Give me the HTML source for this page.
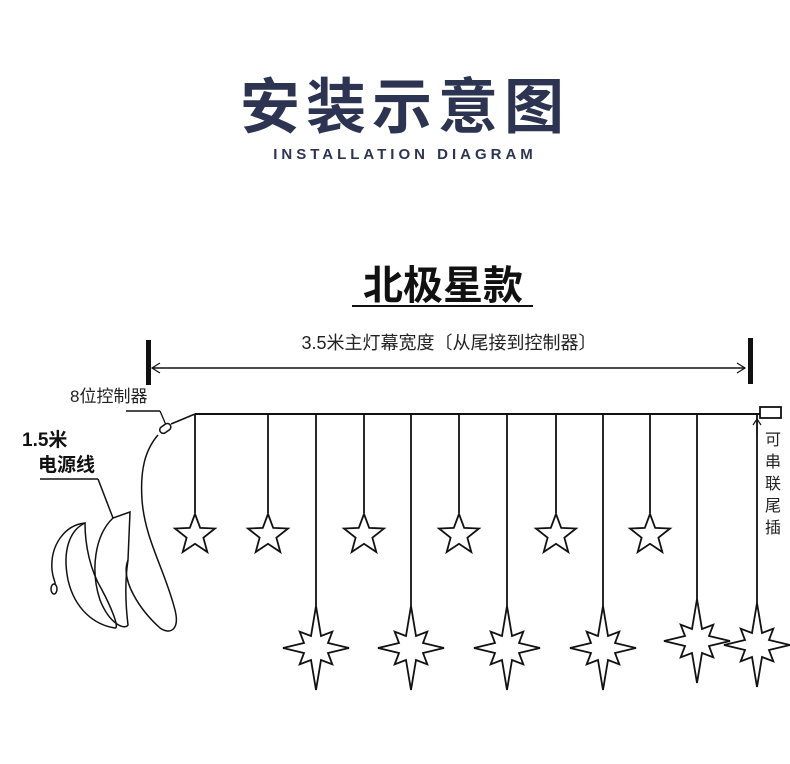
<!DOCTYPE html>
<html><head><meta charset="utf-8"><style>
body{margin:0;background:#fff;width:790px;height:764px;overflow:hidden}
svg{display:block}
text{font-family:"Liberation Sans","Noto Sans CJK SC",sans-serif}
</style></head><body>
<svg id="s" width="790" height="764" viewBox="0 0 790 764" xmlns="http://www.w3.org/2000/svg">
<text x="405" y="128" text-anchor="middle" font-size="60" font-weight="bold" fill="#2d3452" letter-spacing="6">安装示意图</text>
<text x="405" y="159" text-anchor="middle" font-size="15" font-weight="bold" fill="#2d3452" letter-spacing="4">INSTALLATION DIAGRAM</text>
<text x="443" y="299" text-anchor="middle" font-size="40" font-weight="bold" fill="#111">北极星款</text>
<line x1="352" y1="306" x2="533" y2="306" stroke="#111" stroke-width="2"/>
<text x="449" y="349" text-anchor="middle" font-size="18" fill="#222">3.5米主灯幕宽度〔从尾接到控制器〕</text>
<rect x="146" y="340" width="5" height="45" fill="#111"/>
<rect x="748" y="338" width="5" height="46" fill="#111"/>
<line x1="152" y1="368" x2="745" y2="368" stroke="#111" stroke-width="1.5"/>
<path d="M160 363 L152 368 L160 373 M737 363 L745 368 L737 373" fill="none" stroke="#111" stroke-width="1.2"/>
<text x="70" y="402" font-size="17" fill="#222">8位控制器</text>
<line x1="126" y1="411" x2="160" y2="411" stroke="#111" stroke-width="1.5"/>
<text x="22" y="446" font-size="19" font-weight="bold" fill="#111">1.5米</text>
<text x="38" y="471" font-size="19" font-weight="bold" fill="#111">电源线</text>
<line x1="40" y1="479" x2="98" y2="479" stroke="#111" stroke-width="1.5"/>
<line x1="98" y1="479" x2="113" y2="518" stroke="#111" stroke-width="1.5"/>
<line x1="160" y1="411" x2="166" y2="425" stroke="#111" stroke-width="1.3"/>
<rect x="159" y="425" width="12" height="7" rx="3.5" transform="rotate(-35 165 428)" fill="#fff" stroke="#111" stroke-width="1.5"/>
<line x1="171" y1="424" x2="195" y2="414" stroke="#111" stroke-width="1.5"/>
<g fill="none" stroke="#111" stroke-width="1.5">
<path d="M158 435 C145 450 140 470 142 500 C145 540 165 570 175 610 C180 630 170 635 160 628 C140 610 120 580 128 560"/>
<path d="M113 518 C95 535 90 570 100 600 C110 625 125 630 128 625 C125 600 125 580 128 560 L130 512 Z"/>
<path d="M85 523 C70 530 62 550 68 580 C75 610 95 625 115 628 C120 628 110 605 102 590 C90 570 85 545 85 523 Z"/>
<path d="M85 523 C65 525 50 545 52 570 C53 580 56 582 55 585"/>
<ellipse cx="54" cy="589" rx="3" ry="5"/>
</g>
<line x1="195" y1="414" x2="760" y2="414" stroke="#111" stroke-width="2"/>
<rect x="760" y="407" width="21" height="11" fill="#fff" stroke="#111" stroke-width="1.8"/>
<line x1="757" y1="420" x2="757" y2="436" stroke="#111" stroke-width="1.2"/>
<path d="M753 425 L757 419 L761 425" fill="none" stroke="#111" stroke-width="1.2"/>
<text font-size="16" fill="#222"><tspan x="765" y="445">可</tspan><tspan x="765" y="467">串</tspan><tspan x="765" y="489">联</tspan><tspan x="765" y="511">尾</tspan><tspan x="765" y="533">插</tspan></text>
<g id="g" fill="#fff" stroke="#111" stroke-width="1.8" stroke-linejoin="miter"></g>
</svg>
<script>
var g=document.getElementById('g'),h='';
function star5(cx,cy,R){var r=R*0.42,p=[];for(var i=0;i<10;i++){var a=-Math.PI/2+i*Math.PI/5,rr=i%2?r:R;p.push((cx+rr*Math.cos(a)).toFixed(1)+','+(cy+rr*Math.sin(a)).toFixed(1));}return '<polygon points="'+p.join(' ')+'"/>';}
function star8(cx,cy){var p=[];for(var i=0;i<16;i++){var a=-Math.PI/2+i*Math.PI/8,rr;if(i%2)rr=13;else if(i%4==0)rr=(i==0||i==8)?42:33;else rr=23;p.push((cx+rr*Math.cos(a)).toFixed(1)+','+(cy+rr*Math.sin(a)).toFixed(1));}return '<polygon points="'+p.join(' ')+'"/>';}
[195,268,364,459,556,650].forEach(function(x){h+='<line x1="'+x+'" y1="414" x2="'+x+'" y2="513"/>';h+=star5(x,535,21);});
[[316,648],[411,648],[507,648],[603,648],[697,641],[757,645]].forEach(function(c){h+='<line x1="'+c[0]+'" y1="414" x2="'+c[0]+'" y2="'+(c[1]-42)+'"/>';h+=star8(c[0],c[1]);});
g.innerHTML=h;
</script>
</body></html>
